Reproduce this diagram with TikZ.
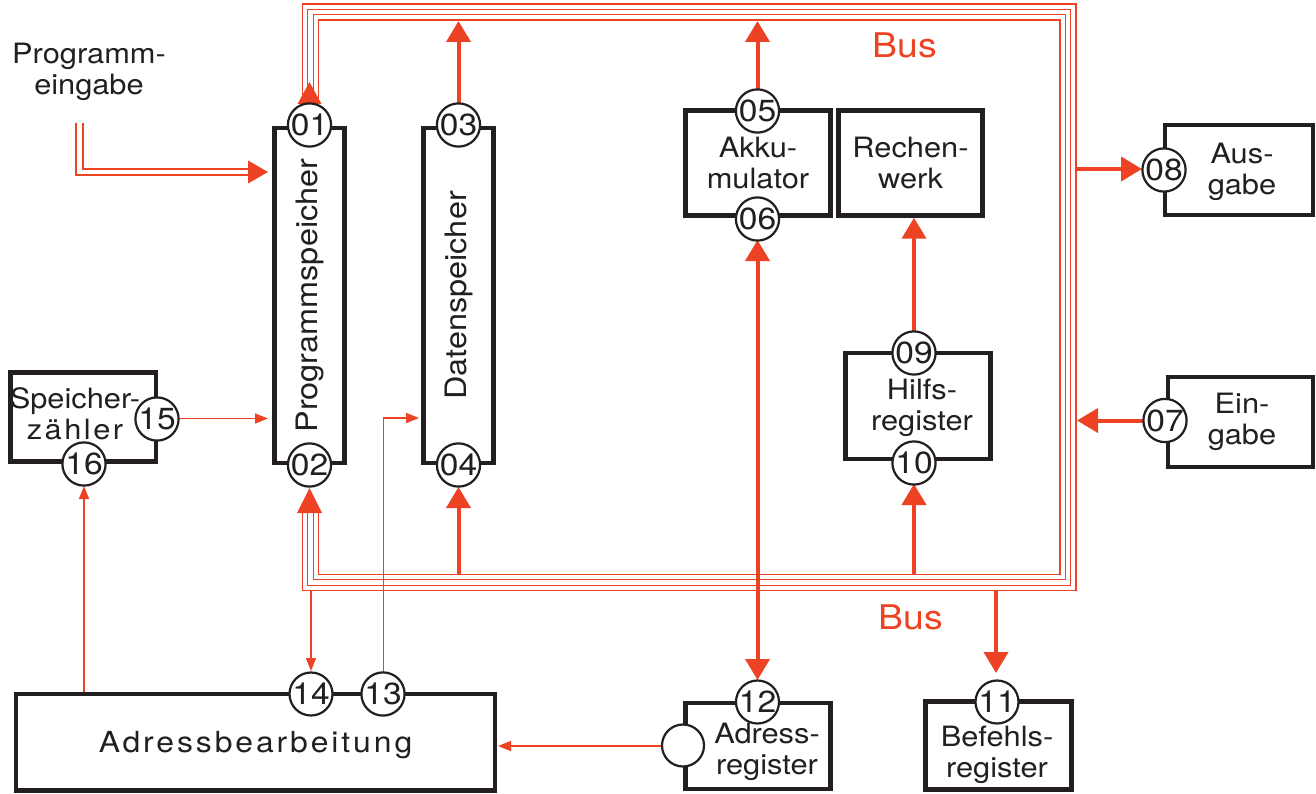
\documentclass[tikz,border=0pt]{standalone}
\usepackage{fontspec}
\setmainfont{TeX Gyre Heros}[FakeStretch=1.1]
\usetikzlibrary{arrows.meta}
\definecolor{busred}{RGB}{238,66,36}
\definecolor{ink}{RGB}{35,31,32}
\begin{document}
\begin{tikzpicture}[x=1pt,y=-1pt,
  box/.style={draw=ink, line width=4.5pt, inner sep=0pt, align=center,
    font=\fontsize{28}{31}\selectfont, text=ink},
  port/.style={circle, draw=ink, line width=2.2pt, fill=white, minimum size=42pt,
    inner sep=0pt, font=\fontsize{30.5}{30}\selectfont, text=ink},
  lbl/.style={align=center, font=\fontsize{28}{31}\selectfont, text=ink, inner sep=0pt},
  buslabel/.style={font=\fontsize{34}{34}\selectfont, text=busred, inner sep=0pt},
  busline/.style={busred, line width=1.3pt},
  bigarrow/.style={busred, line width=4pt, -{Triangle[length=21pt,width=24pt]}},
  thinarrow/.style={busred, line width=1.5pt, -{Triangle[length=13pt,width=10pt]}},
]
\useasboundingbox (0,0) rectangle (1316,794);

% ---------- bus: four nested lines, open on the left between 01 and 02
\foreach \k in {0,1,2,3}{
  \pgfmathsetmacro{\xl}{302.3+5.45*\k}
  \pgfmathsetmacro{\xr}{1076-5.35*\k}
  \pgfmathsetmacro{\yt}{4+5.35*\k}
  \pgfmathsetmacro{\yb}{590.7-5.45*\k}
  \draw[busline] (\xl,102) |- (\xr,\yt) |- (\xl,\yb) -- (\xl,511);
}
\node[buslabel] (bustop) at (905,45) {Bus};
\node[buslabel] (busbot) at (911,617) {Bus};

% ---------- functional blocks
\node[box, minimum width=70pt, minimum height=335pt, font=\fontsize{29.5}{31}\selectfont] (ps) at (309.5,295.5) {\rotatebox{90}{Programmspeicher}};
\node[box, minimum width=70pt, minimum height=335pt, font=\fontsize{29.5}{31}\selectfont] (ds) at (458.5,295.5) {\rotatebox{90}{Datenspeicher}};
\node[box, minimum width=145pt, minimum height=105pt] (ak) at (758,163) {Akku-\\mulator};
\node[box, minimum width=144pt, minimum height=105pt] (rw) at (910.5,163) {Rechen-\\werk};
\node[box, minimum width=145pt, minimum height=106pt] (hr) at (918,406) {};
\node[lbl] (hrt) at (922,408) {Hilfs-\\register};
\node[box, minimum width=148pt, minimum height=90pt] (aus) at (1239,170) {};
\node[lbl] (aust) at (1242,172) {Aus-\\gabe};
\node[box, minimum width=145pt, minimum height=90pt] (ein) at (1240.5,422) {};
\node[lbl] (eint) at (1242,422) {Ein-\\gabe};
\node[box, minimum width=145.5pt, minimum height=89pt] (sz) at (83.25,417) {};
\node[lbl] (szt) at (75,414) {Speicher-\\{\addfontfeature{LetterSpace=9}zähler}};
\node[box, minimum width=479pt, minimum height=96.5pt] (ab) at (255.5,742.25) {};
\node[lbl, font=\fontsize{29}{31}\selectfont\addfontfeature{LetterSpace=10}] (abt) at (255.5,745) {Adressbearbeitung};
\node[box, minimum width=145pt, minimum height=86pt] (ar) at (758,746) {};
\node[lbl] (art) at (767,752) {Adress-\\register};
\node[box, minimum width=146pt, minimum height=88pt] (br) at (998.5,745.5) {};
\node[lbl] (brt) at (997,755) {Befehls-\\register};

\node[lbl] (pe) at (89,72) {Programm-\\eingabe};

% ---------- connectors
\coordinate (b03) at (458.5,21);
\coordinate (b05) at (757.5,21);
\coordinate (b04) at (458.5,573.5);
\coordinate (b10) at (914,573.5);
\coordinate (b08) at (1076,169);
\coordinate (b07) at (1077,420.5);
\coordinate (b11) at (996,591);
\coordinate (b14) at (311,591);
\coordinate (pe1) at (76,123);
\coordinate (pe2) at (83,123);
\coordinate (pein) at (268,172);

\draw[bigarrow] (458.5,104) -- (b03);
\draw[bigarrow] (757.5,90) -- (b05);
\draw[bigarrow] (b04) -- (458.5,487);
\draw[bigarrow] (b10) -- (914,484);
\draw[busred, line width=4pt, {Triangle[length=21pt,width=24pt]}-{Triangle[length=21pt,width=24pt]}] (757.5,240) -- (757.5,680);
\draw[bigarrow] (914,331) -- (rw.south -| 914,0);
\draw[bigarrow] (b08) -- (1142,169);
\draw[bigarrow] (1144,420.5) -- (b07);
\draw[bigarrow] (b11) -- (996,673);

% program input: double line
\draw[busred, line width=1.5pt] (pe1) |- (250,175);
\draw[busred, line width=1.5pt] (pe2) |- (250,169);
\fill[busred] (248,160.5) -- (pein) -- (248,183.5) -- cycle;

% bus arrowheads at 01 and 02
\fill[busred] (297.5,104) -- (309.5,82) -- (321.5,104) -- cycle;
\fill[busred] (297,513) -- (309.5,488) -- (322,513) -- cycle;

\draw[thinarrow] (178,418.5) -- (268,418.5);
\draw[thinarrow] (84,692) -- (84,486);
\draw[thinarrow] (b14) -- (311,671);
\draw[thinarrow] (383.5,672) -- (383.5,418) -- (419,418);
\draw[thinarrow] (661,746) -- (498,746);

% ---------- ports
\node[port] (p01) at (309.5,125) {01};
\node[port] (p02) at (309.5,465) {02};
\node[port] (p03) at (458.5,125) {03};
\node[port] (p04) at (458.5,465) {04};
\node[port] (p05) at (757.5,111) {05};
\node[port] (p06) at (757.5,219) {06};
\node[port] (p08) at (1164,170) {08};
\node[port] (p07) at (1165,420.5) {07};
\node[port] (p09) at (914,353) {09};
\node[port] (p10) at (914,463) {10};
\node[port] (p15) at (157,419) {15};
\node[port] (p16) at (84,464) {16};
\node[port] (p14) at (311,694) {14};
\node[port] (p13) at (383,694) {13};
\node[port] (p12) at (757.5,702) {12};
\node[port] (p11) at (997,702) {11};
\node[port] (pin) at (683,745.5) {};
\end{tikzpicture}
\end{document}
